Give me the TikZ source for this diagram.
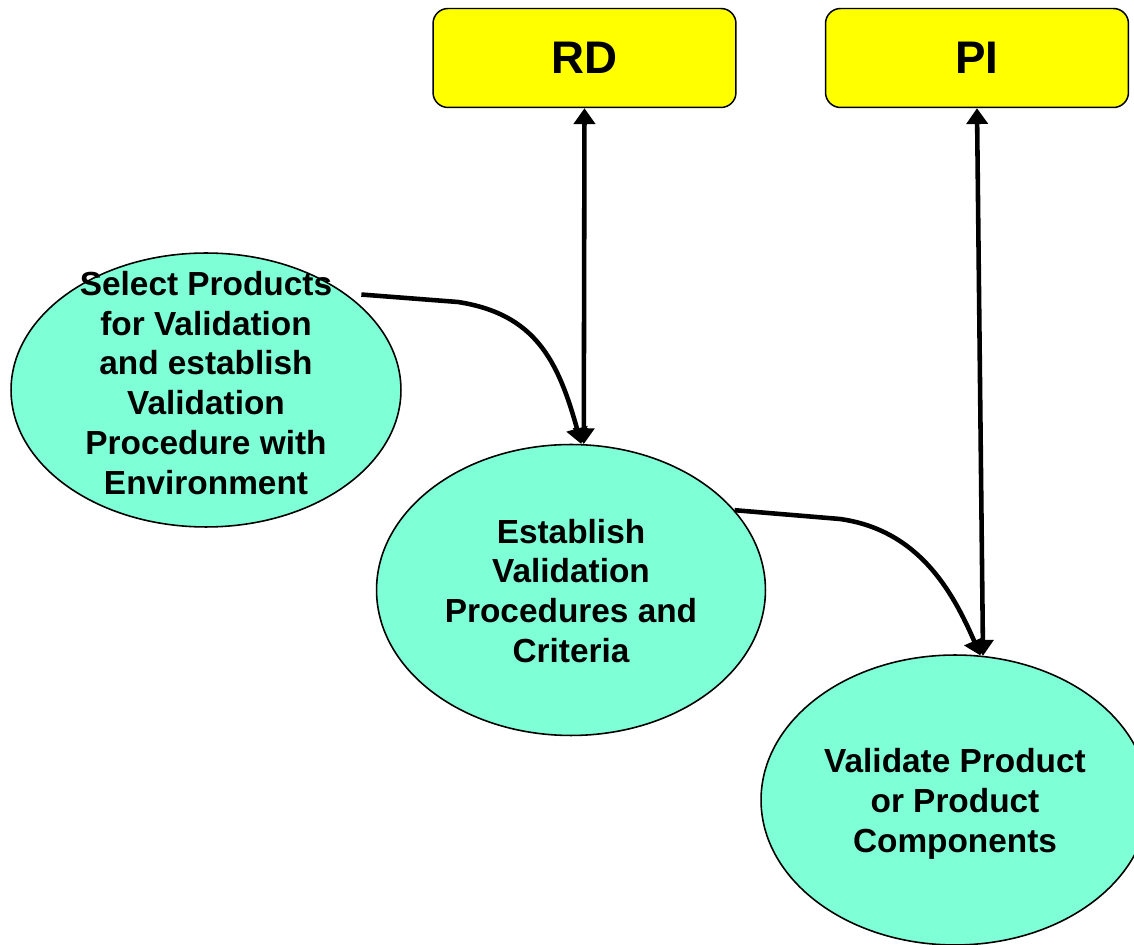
\documentclass[tikz,border=0pt]{standalone}
\usepackage{fontspec}
\setmainfont{Liberation Sans}
\usetikzlibrary{shapes.geometric,arrows.meta}
\definecolor{boxyellow}{RGB}{255,255,0}
\definecolor{ellaqua}{RGB}{127,255,214}
\begin{document}
\begin{tikzpicture}[x=0.02cm, y=-0.02cm,
    areabox/.style={draw, line width=0.85pt, fill=boxyellow, rounded corners=0.3cm,
        minimum width=6.06cm, minimum height=1.98cm, inner sep=0pt,
        font=\bfseries\fontsize{26}{30}\selectfont},
    goal/.style={draw, line width=0.9pt, fill=ellaqua, ellipse, inner sep=0pt},
    goaltext/.style={align=center, inner sep=0pt,
        font=\bfseries\fontsize{19}{22.7}\selectfont},
    link/.style={line width=2.6pt, -{Triangle[width=12pt,length=9pt]}},
    both/.style={line width=2.6pt, {Triangle[width=12pt,length=9pt]}-{Triangle[width=12pt,length=9pt]}}]
    \useasboundingbox (0,0) rectangle (1134,945);
    \clip (0,0) rectangle (1134,945);

    % --- Process areas ---
    \node[areabox] (rd) at (584.5,58) {RD};
    \node[areabox] (pi) at (977,58) {PI};

    % --- Specific goals ---
    \node[goal, minimum width=7.8cm, minimum height=5.48cm] (sel) at (206,390) {};
    \node[goal, minimum width=7.78cm, minimum height=5.82cm] (est) at (571,590) {};
    \node[goal, minimum width=7.76cm, minimum height=5.8cm] (val) at (955,800) {};

    \node[goaltext] (selT) at (206,383) {Select Products\\for Validation\\and establish\\Validation\\Procedure with\\Environment};
    \node[goaltext] (estT) at (571,591) {Establish\\Validation\\Procedures and\\Criteria};
    \node[goaltext] (valT) at (955,804) {Validate Product\\or Product\\Components};

    % --- Flow between goals ---
    \draw[link] ([shift={(9,-4)}]sel.32) -- (458,302) .. controls (535,314) and (558,360) .. (est.86);
    \draw[link] (est.26) -- (840,519) .. controls (918,530) and (952,590) .. (val.80);

    % --- Links to process areas ---
    \draw[both] (rd.south) -- (est.85);
    \draw[both] (pi.south) -- (val.79);
\end{tikzpicture}
\end{document}
